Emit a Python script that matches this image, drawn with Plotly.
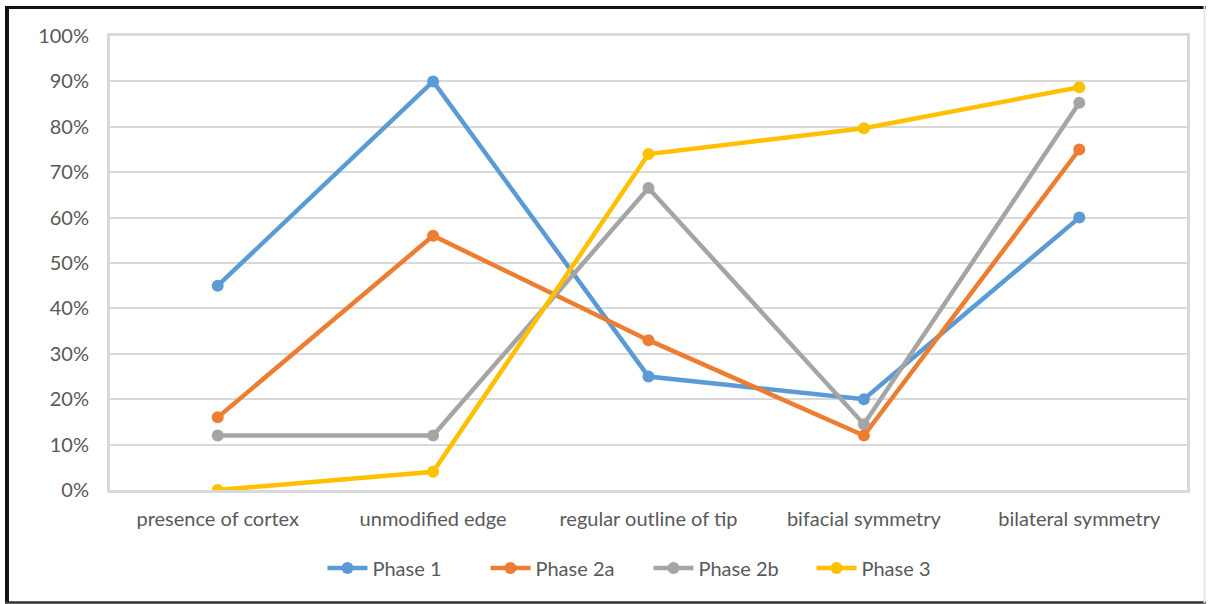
import plotly.graph_objects as go

# Attribute categories along the x axis
categories = [
    "presence of cortex",
    "unmodified edge",
    "regular outline of tip",
    "bifacial symmetry",
    "bilateral symmetry",
]

# Share of pieces showing each attribute (%), per phase
phase_1 = [45, 90, 25, 20, 60]
phase_2a = [16, 56, 33, 12, 75]
phase_2b = [12, 12, 66.5, 14.5, 85.3]
phase_3 = [0, 4, 74, 79.7, 88.7]

series_names = ["Phase 1", "Phase 2a", "Phase 2b", "Phase 3"]
series_values = [phase_1, phase_2a, phase_2b, phase_3]
series_colors = ["#5B9BD5", "#ED7D31", "#A5A5A5", "#FFC000"]

y_tick_values = [0, 10, 20, 30, 40, 50, 60, 70, 80, 90, 100]
y_tick_labels = [f"{v}%" for v in y_tick_values]

FONT = "Lato, 'Open Sans', sans-serif"
TEXT_GREY = "#595959"
GRID_GREY = "#D9D9D9"
FONT_SIZE = 20

fig = go.Figure()
for name, vals, color in zip(series_names, series_values, series_colors):
    fig.add_trace(
        go.Scatter(
            x=categories,
            y=vals,
            name=name,
            mode="lines+markers",
            line=dict(color=color, width=4.5),
            marker=dict(color=color, size=12),
        )
    )

W, H = 1208, 604
L, R, T, B = 110, 21, 36, 114
pw, ph = W - L - R, H - T - B


def px_x(x):
    return (x - L) / pw


def px_y(y):
    return (H - B - y) / ph


# Outer frame around the whole figure
frame = [
    dict(x0=px_x(7), x1=px_x(7), y0=px_y(6), y1=px_y(603), color="#111111", width=4),
    dict(x0=px_x(5), x1=px_x(1206), y0=px_y(7.5), y1=px_y(7.5), color="#111111", width=3),
    dict(x0=px_x(5), x1=px_x(1206), y0=px_y(602.5), y1=px_y(602.5), color="#333333", width=2.5),
    dict(x0=px_x(1204.5), x1=px_x(1204.5), y0=px_y(6), y1=px_y(603), color="#E6E6E6", width=2),
]
for f in frame:
    fig.add_shape(
        type="line", xref="paper", yref="paper",
        x0=f["x0"], x1=f["x1"], y0=f["y0"], y1=f["y1"],
        line=dict(color=f["color"], width=f["width"]),
    )

fig.update_layout(
    width=W,
    height=H,
    margin=dict(l=L, r=R, t=T, b=B),
    paper_bgcolor="white",
    plot_bgcolor="white",
    font=dict(family=FONT, size=FONT_SIZE, color=TEXT_GREY),
    showlegend=True,
    legend=dict(
        orientation="h",
        x=0.5,
        xanchor="center",
        y=px_y(568),
        yanchor="middle",
        font=dict(family=FONT, size=FONT_SIZE, color=TEXT_GREY),
        itemwidth=40,
        entrywidth=108,
        tracegroupgap=0,
    ),
)

fig.update_xaxes(
    type="category",
    range=[-0.5, 4.5],
    showgrid=False,
    showline=True,
    linecolor=GRID_GREY,
    linewidth=3,
    mirror=True,
    ticks="",
    ticklabelstandoff=9,
    tickfont=dict(family=FONT, size=FONT_SIZE, color=TEXT_GREY),
)

fig.update_yaxes(
    range=[0, 100],
    tickvals=y_tick_values,
    ticktext=y_tick_labels,
    showgrid=True,
    gridcolor=GRID_GREY,
    gridwidth=1.5,
    showline=True,
    linecolor=GRID_GREY,
    linewidth=3,
    mirror=True,
    zeroline=False,
    ticks="",
    ticklabelstandoff=14,
    tickfont=dict(family=FONT, size=FONT_SIZE, color=TEXT_GREY),
)

fig.write_html("out.html")
